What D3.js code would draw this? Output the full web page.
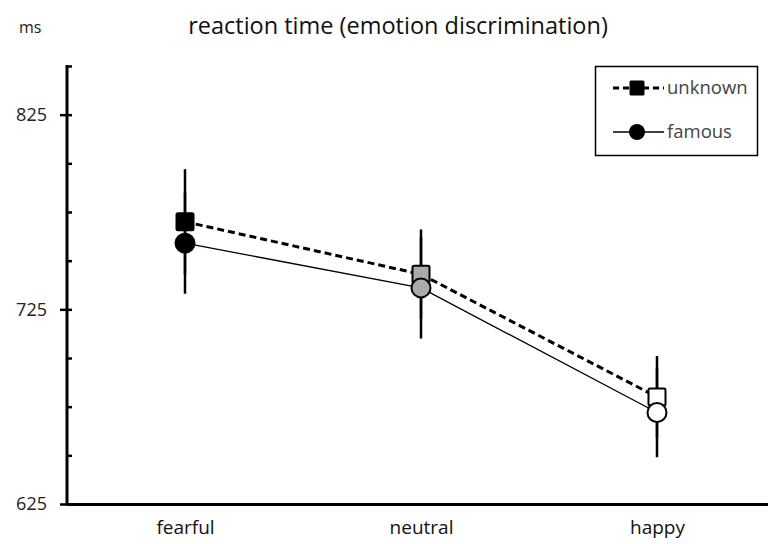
<!DOCTYPE html>
<html>
<head>
<meta charset="utf-8">
<script src="https://cdn.jsdelivr.net/npm/d3@7"></script>
<style>
  body { margin: 0; background: #fff; }
  svg { display: block; font-family: "Open Sans", sans-serif; }
</style>
</head>
<body>
<svg id="chart" width="768" height="544"></svg>
<script>
// values
const categories = ["fearful", "neutral", "happy"]
const unknownMeans = [770, 743, 680]
const unknownErr = [27, 23, 21]
const famousMeans = [759, 736, 672]
const famousErr = [26, 26, 23]
const majorTicks = [625, 725, 825]
const minorTicks = [650, 675, 700, 750, 775, 800, 850]

const svg = d3.select("#chart")
const LEFT = 67
const BOTTOM = 504
const TOP = 66

// marker fill per category (black, grey, white)
const catFill = ["#000", "#aaa", "#fff"]

let x = d3.scalePoint()
    .domain(categories)
    .range([LEFT, 775])
    .padding(0.5)

let y = d3.scaleLinear()
    .domain([625, 850])
    .range([BOTTOM, TOP])

// title + unit
svg.append("text")
    .text("reaction time (emotion discrimination)")
    .attr("x", 398)
    .attr("y", 34)
    .style("font-size", "23.5px")
    .style("fill", "#111")
    .style("text-anchor", "middle")

svg.append("text")
    .text("ms")
    .attr("x", 19)
    .attr("y", 33)
    .style("font-size", "16px")
    .style("fill", "#222")

// y axis: labelled ticks crossing the line, short minor ticks inside
let yLeft = svg.append("g")
    .attr("transform", `translate(${LEFT},0)`)
    .call(d3.axisLeft(y).tickValues(majorTicks).tickSize(7).tickSizeOuter(0).tickPadding(13))
yLeft.select(".domain").remove()
yLeft.selectAll("line").attr("x2", -7).attr("stroke", "#000").attr("stroke-width", 2.5)
yLeft.selectAll("text")
    .style("font-size", "18px")
    .style("fill", "#222")
    .style("font-family", "'Open Sans', sans-serif")

let yRight = svg.append("g")
    .attr("transform", `translate(${LEFT},0)`)
    .call(d3.axisRight(y).tickValues(majorTicks.concat(minorTicks)).tickSize(5).tickSizeOuter(0).tickFormat(""))
yRight.select(".domain").remove()
yRight.selectAll("line").attr("stroke", "#000").attr("stroke-width", 2.5)

svg.append("line")
    .attr("x1", LEFT).attr("x2", LEFT)
    .attr("y1", y(850) - 1).attr("y2", BOTTOM + 1.5)
    .attr("stroke", "#000")
    .attr("stroke-width", 3)

// x axis
let xAxis = svg.append("g")
    .attr("transform", `translate(0,${BOTTOM})`)
    .call(d3.axisBottom(x).tickSize(0).tickSizeOuter(0).tickPadding(17))
xAxis.select(".domain").attr("stroke", "#000").attr("stroke-width", 3)
xAxis.selectAll("text")
    .style("font-size", "19px")
    .style("fill", "#111")
    .style("font-family", "'Open Sans', sans-serif")

// error bars (both series share the same x)
const series = [
    { name: "unknown", means: unknownMeans, err: unknownErr },
    { name: "famous", means: famousMeans, err: famousErr }
]
series.forEach(s => {
    svg.selectAll(null)
        .data(categories)
        .enter()
        .append("line")
        .attr("x1", d => x(d))
        .attr("x2", d => x(d))
        .attr("y1", (d, i) => y(s.means[i] + s.err[i]))
        .attr("y2", (d, i) => y(s.means[i] - s.err[i]))
        .attr("stroke", "#000")
        .attr("stroke-width", 2.5)
})

// lines
let lineGen = d3.line()
    .x(d => x(d.cat))
    .y(d => y(d.v))

svg.append("path")
    .datum(categories.map((c, i) => ({ cat: c, v: unknownMeans[i] })))
    .attr("d", lineGen)
    .attr("fill", "none")
    .attr("stroke", "#000")
    .attr("stroke-width", 3)
    .attr("stroke-dasharray", "7,4")

svg.append("path")
    .datum(categories.map((c, i) => ({ cat: c, v: famousMeans[i] })))
    .attr("d", lineGen)
    .attr("fill", "none")
    .attr("stroke", "#000")
    .attr("stroke-width", 1.3)

// markers
const SQ = 17
svg.selectAll(null)
    .data(categories)
    .enter()
    .append("rect")
    .attr("x", d => x(d) - SQ / 2)
    .attr("y", (d, i) => y(unknownMeans[i]) - SQ / 2)
    .attr("width", SQ)
    .attr("height", SQ)
    .attr("rx", 1.5)
    .attr("fill", (d, i) => catFill[i])
    .attr("stroke", "#000")
    .attr("stroke-width", 2)

svg.selectAll(null)
    .data(categories)
    .enter()
    .append("circle")
    .attr("cx", d => x(d))
    .attr("cy", (d, i) => y(famousMeans[i]))
    .attr("r", 9.5)
    .attr("fill", (d, i) => catFill[i])
    .attr("stroke", "#000")
    .attr("stroke-width", 2)

// legend
let lg = svg.append("g")
lg.append("rect")
    .attr("x", 595.5).attr("y", 66.5)
    .attr("width", 162).attr("height", 89)
    .attr("fill", "#fff")
    .attr("stroke", "#000")
    .attr("stroke-width", 1.5)

const legendRows = [
    { name: "unknown", y: 88, dash: "6,4", w: 3, shape: "rect" },
    { name: "famous", y: 132, dash: null, w: 1.5, shape: "circle" }
]
legendRows.forEach(r => {
    lg.append("line")
        .attr("x1", 613).attr("x2", 664)
        .attr("y1", r.y).attr("y2", r.y)
        .attr("stroke", "#000")
        .attr("stroke-width", r.w)
        .attr("stroke-dasharray", r.dash)
    if (r.shape === "rect") {
        lg.append("rect")
            .attr("x", 637 - 7.5).attr("y", r.y - 7.5)
            .attr("width", 15).attr("height", 15)
            .attr("rx", 1.5)
            .attr("fill", "#000")
    } else {
        lg.append("circle")
            .attr("cx", 637).attr("cy", r.y)
            .attr("r", 8)
            .attr("fill", "#000")
    }
    lg.append("text")
        .text(r.name)
        .attr("x", 667)
        .attr("y", r.y + 6)
        .style("font-size", "18.5px")
        .style("fill", "#444")
})
</script>
</body>
</html>
